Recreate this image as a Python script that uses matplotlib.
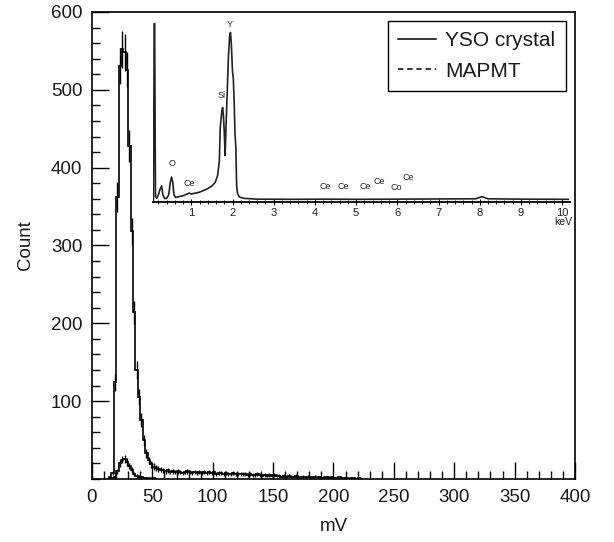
import numpy as np
import matplotlib
matplotlib.use('Agg')
import matplotlib.pyplot as plt
from matplotlib.lines import Line2D
from matplotlib.ticker import MultipleLocator

plt.rcParams['font.family'] = ['Liberation Sans', 'DejaVu Sans']

# main histograms, 2 mV bins
bin_width = 2.0
yso_start = 14.0
yso_counts = [2, 8, 124, 362, 531, 552, 548, 526, 428, 318, 214, 140, 105, 76, 50,
              33, 24, 19, 16, 14, 13, 12, 11, 10, 11, 9, 10, 9, 10, 9,
              8, 9, 10, 9, 8, 9, 8, 9, 8, 9, 8, 9, 8, 9, 7,
              8, 8, 7, 8, 7, 7, 8, 6, 7, 6, 7, 6, 5, 6, 5,
              5, 6, 5, 4, 5, 4, 5, 4, 5, 4, 4, 3, 4, 3, 4,
              3, 3, 4, 3, 2, 3, 2, 3, 2, 2, 3, 2, 2, 1, 2,
              2, 1, 2, 1, 1, 2, 1, 1, 1, 0, 1, 1, 0, 1, 0]
mapmt_start = 14.0
mapmt_counts = [0, 1, 3, 10, 20, 25, 26, 22, 17, 12, 7, 4, 3, 2, 1, 1, 1, 0, 1, 0]

# inset EDX spectrum (keV, arbitrary units)
edx_kev = [0.08, 0.10, 0.11, 0.13, 0.16, 0.20, 0.24, 0.28, 0.31, 0.35, 0.40, 0.45,
           0.49, 0.52, 0.55, 0.58, 0.62, 0.70, 0.80, 0.90, 0.95, 1.00, 1.10, 1.20,
           1.30, 1.40, 1.50, 1.58, 1.64, 1.68, 1.70, 1.72, 1.74, 1.76, 1.78, 1.80,
           1.82, 1.84, 1.87, 1.90, 1.93, 1.95, 1.97, 2.00, 2.02, 2.04, 2.06, 2.08,
           2.10, 2.12, 2.16, 2.20, 2.30, 2.45, 2.60, 3.50, 4.30, 5.00, 6.00, 7.00,
           7.90, 8.05, 8.20, 9.00, 10.15]
edx_val = [0, 99, 99, 2, 1, 3, 6, 8, 3, 1, 1, 3,
           10, 13, 10, 3, 1.5, 2, 2.5, 3.5, 4, 3.5, 4, 4.5,
           5.5, 6.5, 8, 10, 14, 22, 40, 45, 50, 52, 47, 38,
           25, 40, 60, 80, 92, 94, 88, 72, 68, 55, 37, 30,
           8, 4, 2, 1.5, 1, 0.8, 0.6, 0.5, 0.6, 0.5, 0.6, 0.7,
           0.8, 2, 0.8, 0.6, 0.5]
peak_names = ['O', 'Ce', 'Si', 'Y', 'Ce', 'Ce', 'Ce', 'Ce', 'Co', 'Ce']
peak_kev = [0.53, 0.95, 1.73, 1.94, 4.26, 4.68, 5.22, 5.57, 5.97, 6.27]
peak_y = [18, 7, 56, 96, 5, 5, 5, 8, 4.5, 10]

fig = plt.figure(figsize=(6.14, 5.42), dpi=100)
ax = fig.add_axes([0.1498, 0.1162, 0.7867, 0.8617])

def draw_hist(start, counts, **kw):
    counts = np.array(counts, dtype=float)
    edges = start + bin_width * np.arange(len(counts) + 1)
    centers = 0.5 * (edges[:-1] + edges[1:])
    ax.stairs(counts, edges, color='black', lw=1.2, **kw)
    ax.errorbar(centers, counts, yerr=np.sqrt(counts), fmt='none',
                ecolor='black', elinewidth=1.0)

draw_hist(yso_start, yso_counts)
draw_hist(mapmt_start, mapmt_counts)

ax.set_xlim(0, 400)
ax.set_ylim(0, 600)
ax.xaxis.set_major_locator(MultipleLocator(50))
ax.xaxis.set_minor_locator(MultipleLocator(10))
ax.set_yticks([100, 200, 300, 400, 500, 600])
ax.yaxis.set_minor_locator(MultipleLocator(20))
ax.tick_params(which='both', direction='in', top=False, right=False,
               labelsize=13.5, color='black', pad=7, labelcolor='#1a1a1a')
ax.tick_params(which='major', length=12, width=1)
ax.tick_params(which='minor', length=6, width=1)
for s in ax.spines.values():
    s.set_linewidth(1.2)
ax.set_xlabel('mV', fontsize=13.5, labelpad=9, color='#1a1a1a')
ax.set_ylabel('Count', fontsize=13.5, labelpad=12, color='#1a1a1a')

handles = [Line2D([], [], color='black', lw=1.1),
           Line2D([], [], color='black', lw=1.1, ls=(0, (3.5, 2.5)))]
leg = ax.legend(handles, ['YSO crystal', 'MAPMT'], loc='upper right',
                bbox_to_anchor=(0.981, 0.981), fontsize=15, frameon=True,
                fancybox=False, edgecolor='black', framealpha=1,
                labelspacing=0.55, borderpad=0.5, handlelength=1.8,
                handletextpad=0.45, borderaxespad=0)
leg.get_frame().set_linewidth(1.0)
for t in leg.get_texts():
    t.set_color('#1a1a1a')

# inset spectrum
ins = fig.add_axes([153 / 614, 1 - 202 / 542, 417 / 614, 182 / 542])
ins.patch.set_visible(False)
ins.plot(edx_kev, edx_val, color='#222222', lw=1.2)
ins.set_xlim(0.07, 10.19)
ins.set_ylim(-1, 101)
for side in ['top', 'left', 'right']:
    ins.spines[side].set_visible(False)
ins.spines['bottom'].set_linewidth(1.3)
ins.set_yticks([])
ins.xaxis.set_major_locator(MultipleLocator(1))
ins.xaxis.set_minor_locator(MultipleLocator(0.2))
ins.set_xticks(range(1, 11))
ins.tick_params(axis='x', which='both', direction='inout', labelsize=8, pad=2,
                labelcolor='#222222')
ins.tick_params(axis='x', which='major', length=4)
ins.tick_params(axis='x', which='minor', length=2.5)
for name, kx, ky in zip(peak_names, peak_kev, peak_y):
    ins.text(kx, ky, name, fontsize=6.5, ha='center', va='bottom', color='#222222')
ins.text(1.005, -0.085, 'keV', transform=ins.transAxes, fontsize=7.5, ha='right',
         va='top', color='#222222')

fig.savefig('out.png', dpi=100)
